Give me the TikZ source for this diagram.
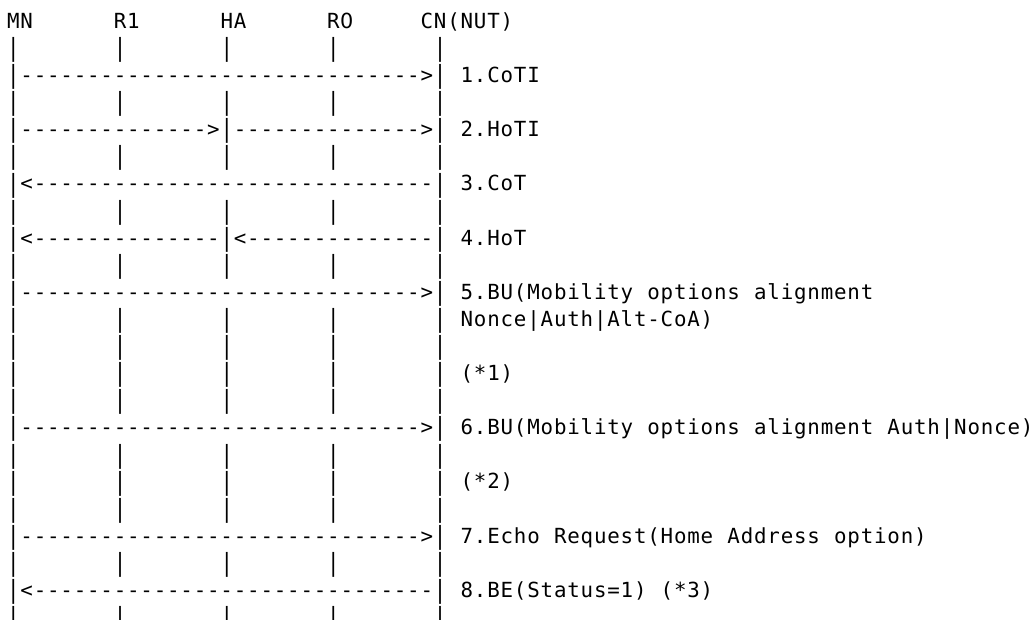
\documentclass[tikz,border=0pt]{standalone}
\usepackage{fontspec}
\newfontfamily\asciifont{DejaVu Sans Mono}
\newfontfamily\zerofont{DejaVu Sans}
\newdimen\cw \cw=13.34pt
\ExplSyntaxOn
\NewDocumentCommand\mono{m}{\str_map_inline:nn{#1}{\makebox[\cw][c]{##1}}}
\ExplSyntaxOff
\newcommand\cx[1]{6.67+13.34*(#1)}
\newcommand\ry[1]{28.2+27.1*(#1)}
\newcommand\pipe{\makebox[\cw][c]{\raisebox{-1.2pt}{\scalebox{1}[1.2]{|}}}}
\tikzset{txt/.style={anchor=base west, inner sep=0pt, outer sep=0pt,
  font=\asciifont\fontsize{20.8}{24}\selectfont}}
\begin{document}
\begin{tikzpicture}[x=1pt,y=-1pt]
\useasboundingbox (0,0) rectangle (1034,619);
\fill[white] (0,0) rectangle (1034,619);
% header
\node[txt] (mn) at ({\cx{0}},{\ry{0}}) {\mono{MN}};
\node[txt] (r1) at ({\cx{8}},{\ry{0}}) {\mono{R1}};
\node[txt] (ha) at ({\cx{16}},{\ry{0}}) {\mono{HA}};
\node[txt] (r0) at ({\cx{24}},{\ry{0}}) {\mono{R}\makebox[\cw][c]{\zerofont 0}};
\node[txt] (cn) at ({\cx{31}},{\ry{0}}) {\mono{CN(NUT)}};
% lifeline pipes
\foreach \r in {1,3,5,7,9,11,12,13,14,16,17,18,20,22}
  \foreach \c in {0,8,16,24,32}
    \node[txt] (p-\r-\c) at ({\cx{\c}},{\ry{\r}}) {\pipe};
\foreach \r in {2,6,10,15,19,21}
  \foreach \c in {0,32}
    \node[txt] (p-\r-\c) at ({\cx{\c}},{\ry{\r}}) {\pipe};
\foreach \r in {4,8}
  \foreach \c in {0,16,32}
    \node[txt] (p-\r-\c) at ({\cx{\c}},{\ry{\r}}) {\pipe};
% arrows
\node[txt] (a1) at ({\cx{1}},{\ry{2}}) {\mono{------------------------------>}};
\node[txt] (a2a) at ({\cx{1}},{\ry{4}}) {\mono{-------------->}};
\node[txt] (a2b) at ({\cx{17}},{\ry{4}}) {\mono{-------------->}};
\node[txt] (a3) at ({\cx{1}},{\ry{6}}) {\mono{<------------------------------}};
\node[txt] (a4a) at ({\cx{1}},{\ry{8}}) {\mono{<--------------}};
\node[txt] (a4b) at ({\cx{17}},{\ry{8}}) {\mono{<--------------}};
\node[txt] (a5) at ({\cx{1}},{\ry{10}}) {\mono{------------------------------>}};
\node[txt] (a6) at ({\cx{1}},{\ry{15}}) {\mono{------------------------------>}};
\node[txt] (a7) at ({\cx{1}},{\ry{19}}) {\mono{------------------------------>}};
\node[txt] (a8) at ({\cx{1}},{\ry{21}}) {\mono{<------------------------------}};
% labels
\node[txt] (l1) at ({\cx{34}},{\ry{2}}) {\mono{1.CoTI}};
\node[txt] (l2) at ({\cx{34}},{\ry{4}}) {\mono{2.HoTI}};
\node[txt] (l3) at ({\cx{34}},{\ry{6}}) {\mono{3.CoT}};
\node[txt] (l4) at ({\cx{34}},{\ry{8}}) {\mono{4.HoT}};
\node[txt] (l5) at ({\cx{34}},{\ry{10}}) {\mono{5.BU(Mobility options alignment}};
\node[txt] (l5b) at ({\cx{34}},{\ry{11}}) {\mono{Nonce|Auth|Alt-CoA)}};
\node[txt] (n1) at ({\cx{34}},{\ry{13}}) {\mono{(*1)}};
\node[txt] (l6) at ({\cx{34}},{\ry{15}}) {\mono{6.BU(Mobility options alignment Auth|Nonce)}};
\node[txt] (n2) at ({\cx{34}},{\ry{17}}) {\mono{(*2)}};
\node[txt] (l7) at ({\cx{34}},{\ry{19}}) {\mono{7.Echo Request(Home Address option)}};
\node[txt] (l8) at ({\cx{34}},{\ry{21}}) {\mono{8.BE(Status=1) (*3)}};
\end{tikzpicture}
\end{document}
